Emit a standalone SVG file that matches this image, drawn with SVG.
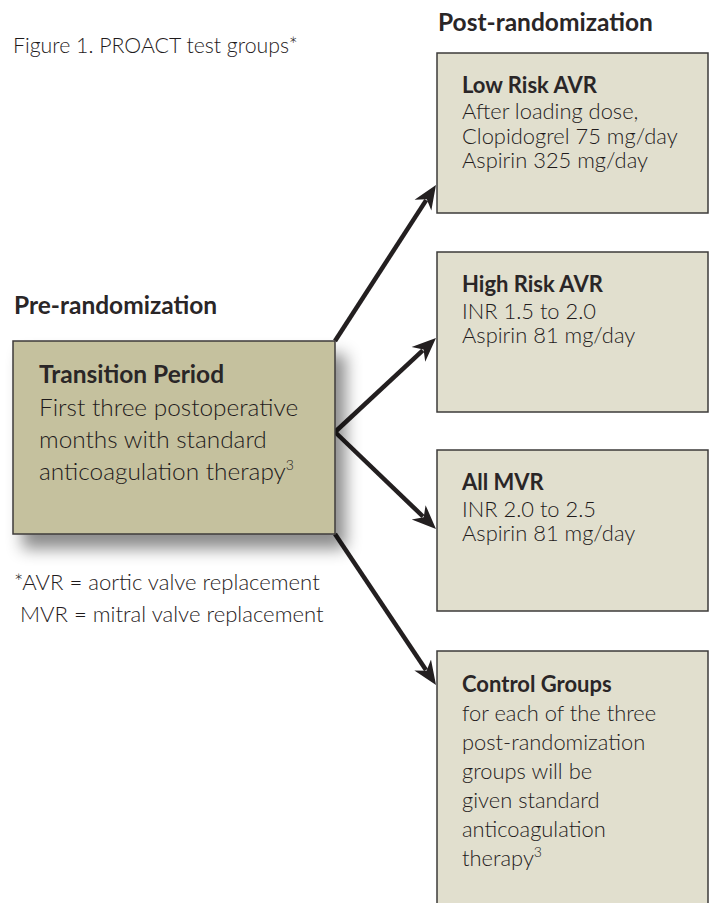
<svg xmlns="http://www.w3.org/2000/svg" width="710" height="903" viewBox="0 0 710 903">
<defs>
<style>
.t{font-family:Lato,"Open Sans","Liberation Sans",sans-serif;fill:#2a2627;}
.l{font-weight:300;fill:#1f1b1c;}
.cap{font-size:21.3px;}
.h{font-size:24.5px;font-weight:700;}
.bh{font-size:22px;font-weight:700;}
.bt{font-size:21.9px;}
.fn{font-size:22.1px;}
.lt{font-size:24.4px;}
.sup{font-size:14px;}
.rbox{fill:#e1dfce;stroke:#3d3b3a;stroke-width:1.5;}
.lbox{fill:#c5c19e;stroke:#3d3b3a;stroke-width:1.5;}
.conn{stroke:#231f20;stroke-width:4.5;fill:none;}
</style>
<filter id="shadow" x="-20%" y="-20%" width="150%" height="160%">
<feDropShadow dx="10" dy="14" stdDeviation="8" flood-color="#000" flood-opacity="0.45"/>
</filter>
<marker id="arr" markerUnits="userSpaceOnUse" markerWidth="26" markerHeight="24" refX="6" refY="12" orient="auto">
<path d="M24,12 L0,2 L7,12 L0,22 Z" fill="#231f20"/>
</marker>
</defs>
<g id="labels">
<text class="t l cap" x="13" y="53">Figure 1. PROACT test groups*</text>
<text class="t h" x="438" y="31">Post-randomization</text>
<text class="t h" x="14" y="314">Pre-randomization</text>
<text class="t l fn" x="14" y="590">*AVR = aortic valve replacement</text>
<text class="t l fn" x="20" y="622">MVR = mitral valve replacement</text>
</g>
<g id="connectors">
<line class="conn" x1="335" y1="341" x2="426.2" y2="200.1" marker-end="url(#arr)"/>
<line class="conn" x1="335" y1="432" x2="422.8" y2="350.3" marker-end="url(#arr)"/>
<line class="conn" x1="335" y1="432" x2="423" y2="516.5" marker-end="url(#arr)"/>
<line class="conn" x1="335" y1="534" x2="426" y2="670" marker-end="url(#arr)"/>
</g>
<g id="transition">
<rect class="lbox" x="13" y="341" width="322" height="193" filter="url(#shadow)"/>
<text class="t h" x="39" y="383">Transition Period</text>
<text class="t l lt" x="39" y="416">First three postoperative</text>
<text class="t l lt" x="39" y="448">months with standard</text>
<text class="t l lt" x="39" y="480">anticoagulation therapy<tspan class="sup" dy="-10">3</tspan></text>
</g>
<g id="low-risk">
<rect class="rbox" x="437" y="53" width="271" height="160"/>
<text class="t bh" x="462" y="92.5">Low Risk AVR</text>
<text class="t l bt" x="462" y="119">After loading dose,</text>
<text class="t l bt" x="462" y="143.5">Clopidogrel 75 mg/day</text>
<text class="t l bt" x="462" y="168">Aspirin 325 mg/day</text>
</g>
<g id="high-risk">
<rect class="rbox" x="437" y="252" width="271" height="160"/>
<text class="t bh" x="462" y="292">High Risk AVR</text>
<text class="t l bt" x="462" y="318.5">INR 1.5 to 2.0</text>
<text class="t l bt" x="462" y="343">Aspirin 81 mg/day</text>
</g>
<g id="all-mvr">
<rect class="rbox" x="437" y="450" width="271" height="161"/>
<text class="t bh" x="462" y="490">All MVR</text>
<text class="t l bt" x="462" y="516.5">INR 2.0 to 2.5</text>
<text class="t l bt" x="462" y="541">Aspirin 81 mg/day</text>
</g>
<g id="control">
<rect class="rbox" x="437" y="651" width="271" height="262"/>
<text class="t bh" x="462" y="692">Control Groups</text>
<text class="t l bt" x="462" y="721">for each of the three</text>
<text class="t l bt" x="462" y="750">post-randomization</text>
<text class="t l bt" x="462" y="779">groups will be</text>
<text class="t l bt" x="462" y="808">given standard</text>
<text class="t l bt" x="462" y="837">anticoagulation</text>
<text class="t l bt" x="462" y="866">therapy<tspan class="sup" dy="-9">3</tspan></text>
</g>
</svg>
